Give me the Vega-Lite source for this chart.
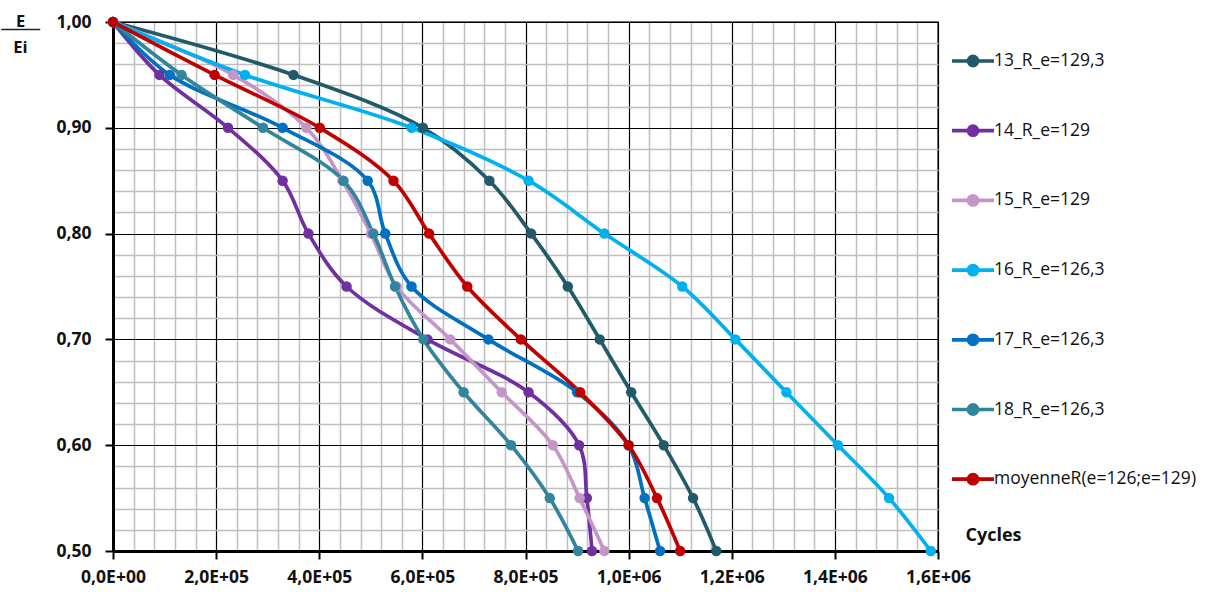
{
  "$schema": "https://vega.github.io/schema/vega-lite/v6.json",
  "width": 825,
  "height": 529,
  "autosize": {"type": "none"},
  "padding": {"left": 113, "top": 22, "right": 283, "bottom": 41},
  "background": "white",
  "config": {
    "view": {"stroke": "#404040", "strokeWidth": 1.5},
    "font": "Open Sans"
  },
  "data": {
    "values": [
      {"serie": "13_R_e=129,3", "cycles": 0, "e": 1.0},
      {"serie": "13_R_e=129,3", "cycles": 350000, "e": 0.95},
      {"serie": "13_R_e=129,3", "cycles": 601000, "e": 0.90},
      {"serie": "13_R_e=129,3", "cycles": 730000, "e": 0.85},
      {"serie": "13_R_e=129,3", "cycles": 811000, "e": 0.80},
      {"serie": "13_R_e=129,3", "cycles": 882000, "e": 0.75},
      {"serie": "13_R_e=129,3", "cycles": 944000, "e": 0.70},
      {"serie": "13_R_e=129,3", "cycles": 1005000, "e": 0.65},
      {"serie": "13_R_e=129,3", "cycles": 1068000, "e": 0.60},
      {"serie": "13_R_e=129,3", "cycles": 1125000, "e": 0.55},
      {"serie": "13_R_e=129,3", "cycles": 1170000, "e": 0.50},
      {"serie": "14_R_e=129", "cycles": 0, "e": 1.0},
      {"serie": "14_R_e=129", "cycles": 90000, "e": 0.95},
      {"serie": "14_R_e=129", "cycles": 223000, "e": 0.90},
      {"serie": "14_R_e=129", "cycles": 329000, "e": 0.85},
      {"serie": "14_R_e=129", "cycles": 379000, "e": 0.80},
      {"serie": "14_R_e=129", "cycles": 453000, "e": 0.75},
      {"serie": "14_R_e=129", "cycles": 610000, "e": 0.70},
      {"serie": "14_R_e=129", "cycles": 806000, "e": 0.65},
      {"serie": "14_R_e=129", "cycles": 904000, "e": 0.60},
      {"serie": "14_R_e=129", "cycles": 919000, "e": 0.55},
      {"serie": "14_R_e=129", "cycles": 929000, "e": 0.50},
      {"serie": "15_R_e=129", "cycles": 0, "e": 1.0},
      {"serie": "15_R_e=129", "cycles": 233000, "e": 0.95},
      {"serie": "15_R_e=129", "cycles": 375000, "e": 0.90},
      {"serie": "15_R_e=129", "cycles": 445000, "e": 0.85},
      {"serie": "15_R_e=129", "cycles": 500000, "e": 0.80},
      {"serie": "15_R_e=129", "cycles": 550000, "e": 0.75},
      {"serie": "15_R_e=129", "cycles": 654000, "e": 0.70},
      {"serie": "15_R_e=129", "cycles": 754000, "e": 0.65},
      {"serie": "15_R_e=129", "cycles": 853000, "e": 0.60},
      {"serie": "15_R_e=129", "cycles": 905000, "e": 0.55},
      {"serie": "15_R_e=129", "cycles": 953000, "e": 0.50},
      {"serie": "16_R_e=126,3", "cycles": 0, "e": 1.0},
      {"serie": "16_R_e=126,3", "cycles": 256000, "e": 0.95},
      {"serie": "16_R_e=126,3", "cycles": 579000, "e": 0.90},
      {"serie": "16_R_e=126,3", "cycles": 806000, "e": 0.85},
      {"serie": "16_R_e=126,3", "cycles": 953000, "e": 0.80},
      {"serie": "16_R_e=126,3", "cycles": 1104000, "e": 0.75},
      {"serie": "16_R_e=126,3", "cycles": 1207000, "e": 0.70},
      {"serie": "16_R_e=126,3", "cycles": 1306000, "e": 0.65},
      {"serie": "16_R_e=126,3", "cycles": 1406000, "e": 0.60},
      {"serie": "16_R_e=126,3", "cycles": 1505000, "e": 0.55},
      {"serie": "16_R_e=126,3", "cycles": 1586000, "e": 0.50},
      {"serie": "17_R_e=126,3", "cycles": 0, "e": 1.0},
      {"serie": "17_R_e=126,3", "cycles": 110000, "e": 0.95},
      {"serie": "17_R_e=126,3", "cycles": 329000, "e": 0.90},
      {"serie": "17_R_e=126,3", "cycles": 494000, "e": 0.85},
      {"serie": "17_R_e=126,3", "cycles": 528000, "e": 0.80},
      {"serie": "17_R_e=126,3", "cycles": 579000, "e": 0.75},
      {"serie": "17_R_e=126,3", "cycles": 728000, "e": 0.70},
      {"serie": "17_R_e=126,3", "cycles": 900000, "e": 0.65},
      {"serie": "17_R_e=126,3", "cycles": 1000000, "e": 0.60},
      {"serie": "17_R_e=126,3", "cycles": 1031000, "e": 0.55},
      {"serie": "17_R_e=126,3", "cycles": 1061000, "e": 0.50},
      {"serie": "18_R_e=126,3", "cycles": 0, "e": 1.0},
      {"serie": "18_R_e=126,3", "cycles": 133000, "e": 0.95},
      {"serie": "18_R_e=126,3", "cycles": 291000, "e": 0.90},
      {"serie": "18_R_e=126,3", "cycles": 447000, "e": 0.85},
      {"serie": "18_R_e=126,3", "cycles": 505000, "e": 0.80},
      {"serie": "18_R_e=126,3", "cycles": 547000, "e": 0.75},
      {"serie": "18_R_e=126,3", "cycles": 602000, "e": 0.70},
      {"serie": "18_R_e=126,3", "cycles": 680000, "e": 0.65},
      {"serie": "18_R_e=126,3", "cycles": 772000, "e": 0.60},
      {"serie": "18_R_e=126,3", "cycles": 847000, "e": 0.55},
      {"serie": "18_R_e=126,3", "cycles": 902000, "e": 0.50},
      {"serie": "moyenneR(e=126;e=129)", "cycles": 0, "e": 1.0},
      {"serie": "moyenneR(e=126;e=129)", "cycles": 197000, "e": 0.95},
      {"serie": "moyenneR(e=126;e=129)", "cycles": 401000, "e": 0.90},
      {"serie": "moyenneR(e=126;e=129)", "cycles": 544000, "e": 0.85},
      {"serie": "moyenneR(e=126;e=129)", "cycles": 613000, "e": 0.80},
      {"serie": "moyenneR(e=126;e=129)", "cycles": 687000, "e": 0.75},
      {"serie": "moyenneR(e=126;e=129)", "cycles": 791000, "e": 0.70},
      {"serie": "moyenneR(e=126;e=129)", "cycles": 906000, "e": 0.65},
      {"serie": "moyenneR(e=126;e=129)", "cycles": 1000000, "e": 0.60},
      {"serie": "moyenneR(e=126;e=129)", "cycles": 1055000, "e": 0.55},
      {"serie": "moyenneR(e=126;e=129)", "cycles": 1100000, "e": 0.50}
    ]
  },
  "layer": [
    {
      "mark": {"type": "point", "opacity": 0},
      "encoding": {
        "x": {
          "field": "cycles", "type": "quantitative",
          "scale": {"domain": [0, 1600000], "nice": false, "zero": false},
          "axis": {
            "orient": "bottom", "title": null, "labels": false, "ticks": false, "domain": false,
            "grid": true, "gridColor": "#BFBFBF", "gridWidth": 1.5,
            "values": [40000, 80000, 120000, 160000, 240000, 280000, 320000, 360000, 440000, 480000, 520000, 560000, 640000, 680000, 720000, 760000, 840000, 880000, 920000, 960000, 1040000, 1080000, 1120000, 1160000, 1240000, 1280000, 1320000, 1360000, 1440000, 1480000, 1520000, 1560000]
          }
        },
        "y": {
          "field": "e", "type": "quantitative",
          "scale": {"domain": [0.5, 1.0], "nice": false, "zero": false},
          "axis": {
            "orient": "left", "labels": false, "ticks": false, "domain": false,
            "grid": true, "gridColor": "#BFBFBF", "gridWidth": 1.5,
            "values": [0.52, 0.54, 0.56, 0.58, 0.62, 0.64, 0.66, 0.68, 0.72, 0.74, 0.76, 0.78, 0.82, 0.84, 0.86, 0.88, 0.92, 0.94, 0.96, 0.98],
            "title": "────", "titleFont": "DejaVu Sans", "titleFontSize": 16, "titleFontWeight": "normal", "titleColor": "#222222",
            "titleAngle": 0, "titleX": -93, "titleY": 12, "titleAlign": "center", "titleBaseline": "alphabetic"
          }
        }
      }
    },
    {
      "mark": {
        "type": "line", "interpolate": "catmull-rom", "strokeWidth": 3.7,
        "point": {"filled": true, "size": 110, "opacity": 1}
      },
      "encoding": {
        "x": {
          "field": "cycles", "type": "quantitative",
          "scale": {"domain": [0, 1600000], "nice": false, "zero": false},
          "axis": {
            "orient": "bottom",
            "values": [0, 200000, 400000, 600000, 800000, 1000000, 1200000, 1400000, 1600000],
            "labelExpr": "replace(replace(upper(format(datum.value, '.1e')), '.', ','), 'E+', 'E+0')",
            "grid": true, "gridColor": "#000000", "gridWidth": 1.2,
            "domain": true, "domainColor": "#000000", "domainWidth": 3,
            "ticks": true, "tickColor": "#000000", "tickSize": 8, "tickWidth": 2,
            "labelFont": "Open Sans", "labelFontWeight": "bold", "labelFontSize": 17.5, "labelColor": "#111111",
            "labelPadding": 9, "labelFlush": false, "labelOverlap": false,
            "title": "Cycles", "titleFont": "Open Sans", "titleFontSize": 18, "titleFontWeight": "bold", "titleColor": "#111111",
            "titleX": 852, "titleY": -16, "titleAlign": "left", "titleBaseline": "middle"
          }
        },
        "y": {
          "field": "e", "type": "quantitative",
          "scale": {"domain": [0.5, 1.0], "nice": false, "zero": false},
          "axis": {
            "orient": "left",
            "values": [0.5, 0.6, 0.7, 0.8, 0.9, 1.0],
            "labelExpr": "replace(format(datum.value, '.2f'), '.', ',')",
            "grid": true, "gridColor": "#000000", "gridWidth": 1.2,
            "domain": true, "domainColor": "#000000", "domainWidth": 3,
            "ticks": true, "tickColor": "#000000", "tickSize": 8, "tickWidth": 2,
            "labelFont": "Open Sans", "labelFontWeight": "bold", "labelFontSize": 17.5, "labelColor": "#111111",
            "labelPadding": 14, "labelOverlap": false,
            "title": ["E", "Ei"], "titleFont": "Open Sans", "titleFontSize": 16.5, "titleFontWeight": "bold", "titleColor": "#111111",
            "titleAngle": 0, "titleX": -93, "titleY": 4, "titleAlign": "center", "titleBaseline": "alphabetic", "titleLineHeight": 26
          }
        },
        "color": {
          "field": "serie", "type": "nominal",
          "scale": {
            "domain": ["13_R_e=129,3", "14_R_e=129", "15_R_e=129", "16_R_e=126,3", "17_R_e=126,3", "18_R_e=126,3", "moyenneR(e=126;e=129)"],
            "range": ["#215B69", "#7030A0", "#C496C8", "#00B0F0", "#0070C0", "#31859C", "#C00000"]
          },
          "legend": {
            "orient": "none", "legendX": 851, "legendY": 30, "padding": 0,
            "title": null,
            "symbolType": "M-3,0L3,0M-0.65,0A0.65,0.65,0,1,1,0.65,0A0.65,0.65,0,1,1,-0.65,0Z",
            "symbolSize": 196, "symbolStrokeWidth": 3.7,
            "labelOffset": 12, "rowPadding": 45.7,
            "labelFont": "Open Sans", "labelFontSize": 17.5, "labelColor": "#111111", "labelLimit": 300,
            "encode": {"symbols": {"update": {"fill": {"scale": "color", "field": "value"}, "stroke": {"scale": "color", "field": "value"}, "opacity": {"value": 1}}}}
          }
        }
      }
    }
  ],
  "resolve": {"axis": {"x": "independent", "y": "independent"}}
}
